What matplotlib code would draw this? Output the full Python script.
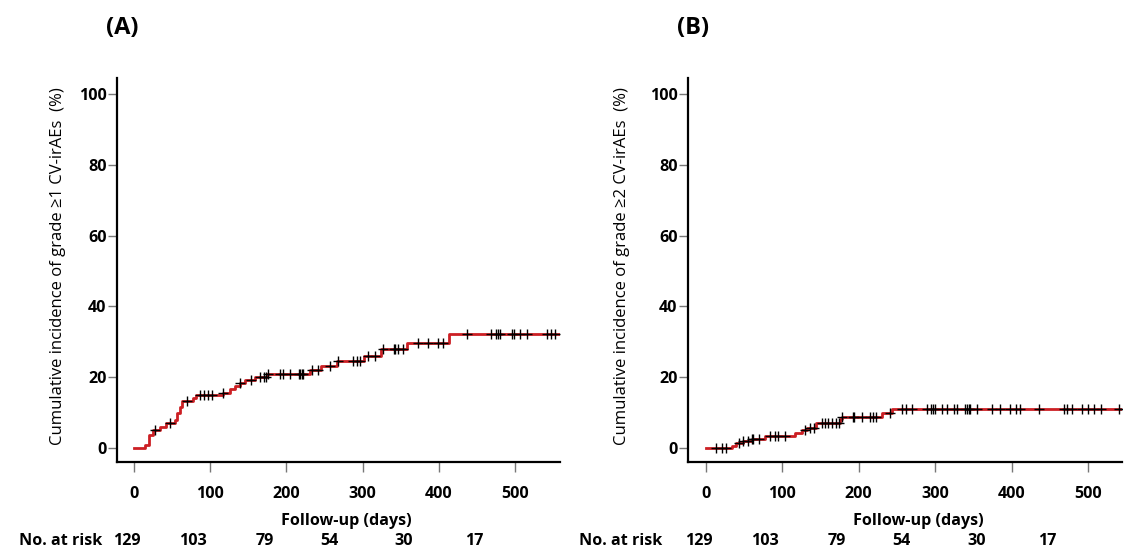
import numpy as np
import matplotlib
matplotlib.use("Agg")
import matplotlib.pyplot as plt
import matplotlib.transforms as mtransforms

plt.rcParams['font.family'] = ['Open Sans', 'DejaVu Sans']

# panel A: grade >=1 CV-irAEs, step times (days) and cumulative incidence (%)
a_times = [0, 14, 20, 25, 34, 42, 54, 57, 60, 63, 78, 82, 117, 126, 133, 139,
           146, 159, 174, 231, 246, 266, 302, 324, 358, 414]
a_vals = [0, 0.8, 3.7, 5.0, 6.0, 7.0, 8.0, 10.0, 11.7, 13.4, 14.0, 14.9, 15.6,
          16.6, 17.5, 18.3, 19.2, 20.0, 20.9, 22.0, 23.3, 24.7, 26.0, 27.9,
          29.7, 32.3]
a_censor = [28, 47, 69, 87, 92, 97, 103, 117, 139, 153, 165, 170, 173, 176, 192,
            195, 205, 216, 218, 220, 222, 233, 242, 257, 268, 288, 293, 296, 307,
            316, 327, 341, 343, 346, 353, 373, 386, 399, 406, 437, 469, 475, 478,
            480, 496, 498, 507, 516, 542, 547, 552]
a_end = 559

# panel B: grade >=2 CV-irAEs
b_times = [0, 34, 40, 49, 60, 78, 117, 126, 132, 144, 176, 178, 230, 243]
b_vals = [0, 0.7, 1.4, 1.9, 2.5, 3.4, 4.3, 5.1, 5.7, 7.1, 8.1, 8.8, 9.8, 10.9]
b_censor = [14, 21, 27, 43, 49, 55, 61, 62, 70, 84, 91, 95, 104, 130, 137, 141,
            152, 156, 160, 165, 171, 174, 178, 192, 194, 204, 215, 219, 222, 241,
            257, 262, 270, 289, 294, 297, 300, 309, 315, 324, 328, 339, 342, 344,
            346, 355, 374, 385, 398, 405, 411, 436, 468, 472, 479, 492, 499, 507,
            516, 540, 547]
b_end = 547

x_ticks = [0, 100, 200, 300, 400, 500]
y_ticks = [0, 20, 40, 60, 80, 100]
at_risk = ['129', '103', '79', '54', '30', '17']
at_risk_x = [-9, 78, 171, 256, 354, 446]

W, H = 1124, 549
FS = 11.6
fig = plt.figure(figsize=(W / 100, H / 100), dpi=100)


def panel(rect, times, vals, censor, xend, xlim, ylabel, tag, ylab_x, risk_lab_x):
    ax = fig.add_axes([rect[0] / W, 1 - rect[3] / H, (rect[2] - rect[0]) / W,
                       (rect[3] - rect[1]) / H])
    t = np.array(times + [xend])
    v = np.array(vals + [vals[-1]])
    ax.step(t, v, where='post', color='#cc1f24', lw=2.0, zorder=2)
    c = np.array(censor)
    idx = np.searchsorted(np.array(times), c, side='right') - 1
    ax.plot(c, np.array(vals)[idx], ls='none', marker='+', ms=7.5, mew=1.0,
            color='black', zorder=3)
    ax.set_xlim(xlim)
    ax.set_ylim(-3.95, 104.5)
    for s in ['top', 'right']:
        ax.spines[s].set_visible(False)
    for s in ['left', 'bottom']:
        ax.spines[s].set_linewidth(1.6)
    ax.set_xticks(x_ticks)
    ax.set_yticks(y_ticks)
    ax.tick_params(axis='x', length=7, width=1, color='#777777', pad=10,
                   labelsize=FS)
    ax.tick_params(axis='y', length=6.5, width=1, color='#777777', pad=1,
                   labelsize=FS)
    for lab in ax.get_xticklabels() + ax.get_yticklabels():
        lab.set_fontweight('bold')
    ax.text(ylab_x, 0.51, ylabel, transform=ax.transAxes, rotation=90,
            ha='center', va='center', fontsize=12, fontweight='medium')
    ax.text(0.012, 1.13, tag, transform=ax.transAxes, ha='center',
            va='center', fontsize=17, fontweight='bold')
    tr = mtransforms.blended_transform_factory(ax.transData, ax.transAxes)
    ax.text(278, -0.154, 'Follow-up (days)', transform=tr, ha='center',
            va='center', fontsize=FS, fontweight='bold')
    ax.text(risk_lab_x, -0.206, 'No. at risk', transform=tr, ha='right',
            va='center', fontsize=FS, fontweight='bold')
    for x, n in zip(at_risk_x, at_risk):
        ax.text(x, -0.206, n, transform=tr, ha='center', va='center',
                fontsize=FS, fontweight='bold')
    return ax


panel((117, 78, 560, 462), a_times, a_vals, a_censor, a_end, (-22.3, 559),
      'Cumulative incidence of grade \u22651 CV-irAEs  (%)', '(A)', -0.133, -41)
panel((688, 78, 1122, 462), b_times, b_vals, b_censor, b_end, (-23, 544),
      'Cumulative incidence of grade \u22652 CV-irAEs  (%)', '(B)', -0.151, -56)

fig.savefig('out.png', dpi=100)
